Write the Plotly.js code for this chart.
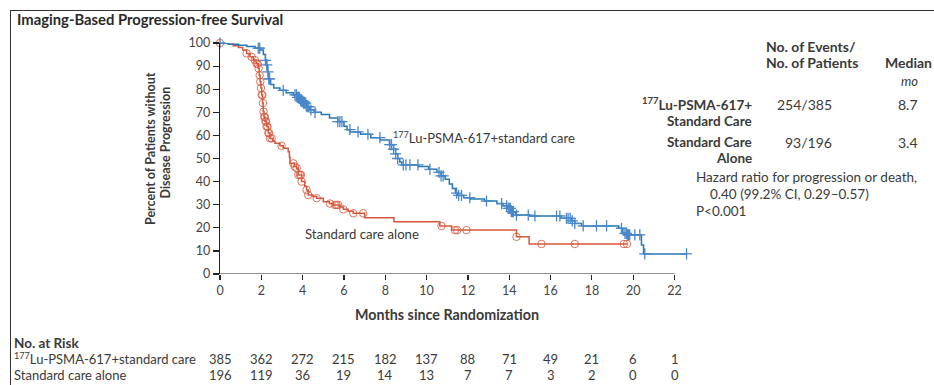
<!DOCTYPE html>
<html><head><meta charset="utf-8">
<script src="https://cdn.plot.ly/plotly-3.0.1.min.js"></script>
<style>html,body{margin:0;padding:0;background:#fff;}#chart{width:934px;height:385px;}</style>
</head><body><div id="chart"></div>
<script>
// Kaplan-Meier step data (time in months, percent without progression)
const luTimes = [0,0.4,0.9,1.3,1.7,1.95,2.1,2.2,2.26,2.3,2.35,2.45,2.6,2.9,3.2,3.55,3.75,3.9,4.05,4.2,4.35,4.55,4.9,5.3,5.7,6.0,6.15,6.3,6.8,7.3,7.75,8.2,8.4,8.5,8.6,8.7,8.8,9.6,10.1,10.5,10.7,10.9,11.1,11.25,11.4,11.5,11.8,12.1,12.8,13.4,13.7,13.9,14.1,14.3,15.0,16.5,17.0,17.17,17.5,19.3,19.5,19.7,20.4,20.5,22.58];
const luSurv  = [100,99.5,99,98.5,97.8,97,95,92.5,90.5,87.5,84.5,82,80.5,79.5,78.5,77.5,76.5,75,74,72.5,71,70,69,67.5,66,64,62.5,61.5,60.5,59,58,56,54,52,50,48.5,47.2,46.5,45.3,44,42.5,41,39,37,35,34,33,32.5,31.6,30.5,29.5,28.4,27,25.5,25.1,24.1,23,21.9,20.8,19.8,17.6,16.9,12.6,8.7,8.7];
const luCensor = [0,1.85,1.92,2.2,2.26,2.32,2.36,2.4,3.06,3.63,3.7,3.75,3.8,3.85,3.9,3.95,4.0,4.05,4.1,4.15,4.2,4.25,4.3,4.4,4.6,5.7,5.8,5.9,6.29,6.68,7.16,7.74,8.22,8.3,8.4,8.5,8.6,8.87,9.0,9.19,9.58,10.16,10.6,10.7,10.8,11.45,11.55,11.69,12.09,12.9,13.63,13.87,13.95,14.0,14.05,14.1,14.15,14.2,14.35,14.92,15.24,16.29,16.45,16.77,16.85,16.95,17.05,17.17,17.58,18.22,18.71,19.43,19.6,19.67,19.72,19.77,19.83,20.08,20.32,20.56,22.58];

const scTimes = [0,0.4,0.64,0.9,1.1,1.29,1.45,1.61,1.75,1.85,1.9,1.94,1.98,2.02,2.06,2.09,2.13,2.18,2.26,2.34,2.42,2.55,2.66,2.9,3.06,3.3,3.36,3.39,3.6,3.71,3.79,3.95,4.1,4.19,4.27,4.5,4.68,5.0,5.3,5.48,5.8,5.97,6.2,6.45,7.0,8.42,10.64,11.21,14.35,14.96,19.7];
const scSurv  = [100,99.5,98.8,98,97,95.5,94,92.6,91,89,86,83.2,80.5,77.5,74,70.3,68,66,63.8,61,58.7,57.5,56.6,55.5,54.4,52.9,50.5,47.9,46.5,45.8,42.9,40,38,36.4,34.2,33.5,32.8,31.3,30.5,29.9,29,28,27.2,26.3,24.4,22.6,20.8,19,16.1,13,13];
const scCensor = [0,1.29,1.53,1.69,1.77,1.82,1.87,1.92,1.95,1.98,2.02,2.05,2.08,2.11,2.14,2.17,2.2,2.23,2.26,2.3,2.34,2.38,2.42,2.5,2.98,3.55,3.62,3.71,3.79,3.87,3.92,3.95,4.19,4.27,4.68,5.32,5.56,5.64,5.72,5.97,6.45,6.93,10.72,11.37,11.48,11.93,14.35,15.56,17.17,19.55,19.7];

const riskTimes = [0,2,4,6,8,10,12,14,16,18,20,22];
const riskLu = [385,362,272,215,182,137,88,71,49,21,6,1];
const riskSC = [196,119,36,19,14,13,7,7,3,2,0,0];
const xTicks = [0,2,4,6,8,10,12,14,16,18,20,22];
const yTicks = [0,10,20,30,40,50,60,70,80,90,100];

const BLUE = '#2479b5', BLUEM = '#4a87c9', RED = '#d3573b', REDM = 'rgba(214,90,62,0.85)';
const TXT = '#3a3a3a';
const F = 'Lato, "Open Sans", sans-serif';

function lookup(ts, ss, t){ let v = ss[0]; for(let i=0;i<ts.length;i++){ if(ts[i] <= t + 1e-9) v = ss[i]; } return v; }

// plot area in pixels
const L = 220, T = 43, W = 469, H = 231;
const px = x => (x - L) / W;
const py = y => (T + H - y) / H;

function ann(text, x, y, o){
  o = o || {};
  return Object.assign({text, xref:'paper', yref:'paper', x:px(x), y:py(y), xanchor:o.xa||'left', yanchor:'middle',
    showarrow:false, font:{family:F, size:o.size||13, color:o.color||TXT, weight:o.bold?700:400, style:o.italic?'italic':'normal'}}, o.extra||{});
}

const traces = [
  {x:scTimes, y:scSurv, mode:'lines', line:{shape:'hv', color:RED, width:1.5}, hoverinfo:'skip', cliponaxis:false},
  {x:luTimes, y:luSurv, mode:'lines', line:{shape:'hv', color:BLUE, width:1.5}, hoverinfo:'skip', cliponaxis:false},
  {x:scCensor, y:scCensor.map(t=>lookup(scTimes, scSurv, t)), mode:'markers', cliponaxis:false,
   marker:{symbol:'circle-open', size:7.5, color:REDM, line:{width:1, color:REDM}}},
  {x:luCensor, y:luCensor.map(t=>lookup(luTimes, luSurv, t)), mode:'markers', cliponaxis:false,
   marker:{symbol:'cross-thin', size:8, color:BLUEM, line:{width:1.3, color:BLUEM}}}
];

const annotations = [
  ann('Imaging-Based Progression-free Survival', 15, 19, {bold:true, size:14.8, color:'#2a2a2a'}),
  ann('Percent of Patients without', 150, 149, {bold:true, size:12.5, xa:'center', extra:{textangle:-90}}),
  ann('Disease Progression', 164.5, 143, {bold:true, size:12.5, xa:'center', extra:{textangle:-90}}),
  ann('Months since Randomization', 447, 314, {bold:true, size:14.3, xa:'center'}),
  ann('<sup>177</sup>Lu-PSMA-617+standard care', 391, 137, {size:13}),
  ann('Standard care alone', 303, 234, {size:13.2}),
  ann('No. of Events/', 764, 46, {bold:true, size:14}),
  ann('No. of Patients', 764, 62, {bold:true, size:14}),
  ann('Median', 934, 62, {bold:true, xa:'right', size:14}),
  ann('mo', 920, 81, {italic:true, xa:'right', size:13}),
  ann('<sup>177</sup>Lu-PSMA-617+', 754, 104, {bold:true, xa:'right', size:13.5}),
  ann('Standard Care', 754, 121, {bold:true, xa:'right', size:13.5}),
  ann('254/385', 834, 104, {xa:'right', size:14}),
  ann('8.7', 920, 104, {xa:'right', size:14}),
  ann('Standard Care', 754, 142, {bold:true, xa:'right', size:13.5}),
  ann('Alone', 754, 158, {bold:true, xa:'right', size:13.5}),
  ann('93/196', 834, 142, {xa:'right', size:14}),
  ann('3.4', 920, 142, {xa:'right', size:14}),
  ann('Hazard ratio for progression or death,', 694, 177, {size:13.5}),
  ann('0.40 (99.2% CI, 0.29\u20130.57)', 708, 194, {size:13.5}),
  ann('P<0.001', 694, 211, {size:13.5}),
  ann('No. at Risk', 12, 343, {bold:true, size:13.5}),
  ann('<sup>177</sup>Lu-PSMA-617+standard care', 12, 359, {}),
  ann('Standard care alone', 12, 375, {})
];
riskTimes.forEach((t,i)=>{
  annotations.push({text:String(riskLu[i]), xref:'x', yref:'paper', x:t, y:py(359), xanchor:'center', yanchor:'middle', showarrow:false, font:{family:F, size:13, color:TXT}});
  annotations.push({text:String(riskSC[i]), xref:'x', yref:'paper', x:t, y:py(375), xanchor:'center', yanchor:'middle', showarrow:false, font:{family:F, size:13, color:TXT}});
});

const shapes = [
  {type:'line', xref:'x', yref:'y', x0:0, x1:22, y0:0, y1:0, line:{color:'#222', width:1.2}},
  {type:'line', xref:'paper', yref:'paper', x0:px(10), x1:px(934), y0:py(10.5), y1:py(10.5), line:{color:'#333', width:1}},
  {type:'line', xref:'paper', yref:'paper', x0:px(10.5), x1:px(10.5), y0:py(10.5), y1:py(385), line:{color:'#333', width:1}}
];

const layout = {
  width:934, height:385, margin:{l:L, r:934-L-W, t:T, b:385-T-H},
  paper_bgcolor:'#fff', plot_bgcolor:'#fff', showlegend:false,
  xaxis:{range:[0,22.7], tickvals:xTicks, ticks:'outside', ticklen:5, tickwidth:1.2, tickcolor:'#222',
    showline:false, showgrid:false, zeroline:false, tickfont:{family:F, size:12.5, color:'#444'}},
  yaxis:{range:[0,100], tickvals:yTicks, ticks:'outside', ticklen:6, tickwidth:1.2, tickcolor:'#222',
    showline:true, linecolor:'#222', linewidth:1.2, showgrid:false, zeroline:false, tickfont:{family:F, size:12.5, color:'#444'}},
  annotations, shapes
};
Plotly.newPlot('chart', traces, layout, {staticPlot:true, displayModeBar:false});
</script></body></html>
